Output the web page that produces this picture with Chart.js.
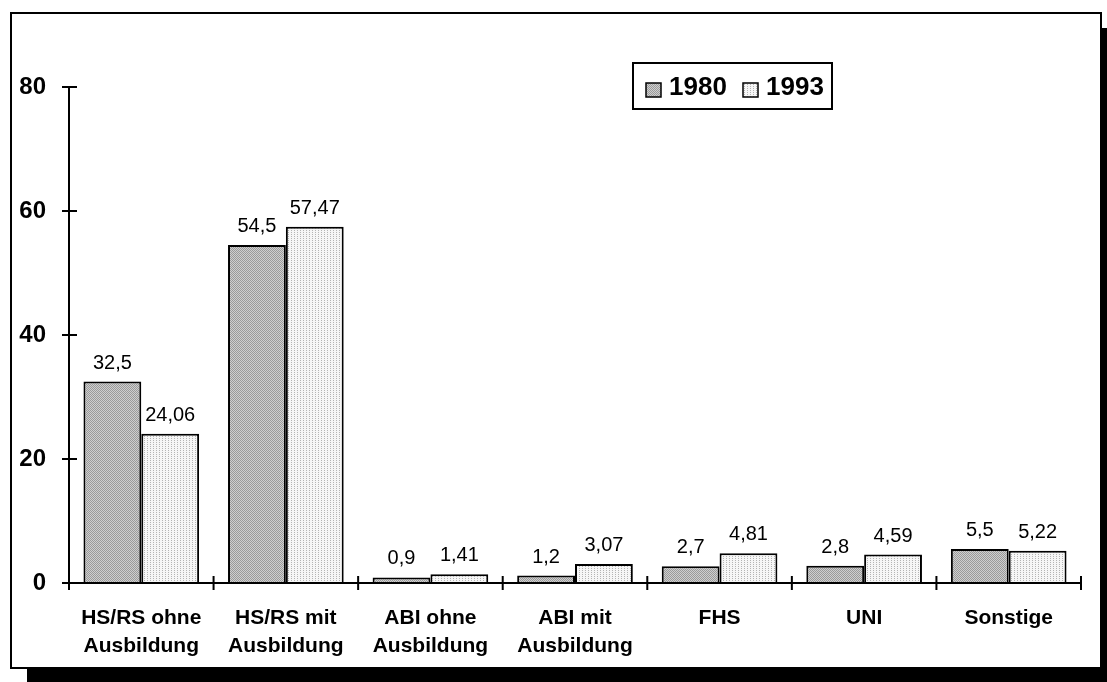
<!DOCTYPE html>
<html>
<head>
<meta charset="utf-8">
<script src="https://cdn.jsdelivr.net/npm/chart.js@4.4.0/dist/chart.umd.min.js"></script>
<style>
  body { margin: 0; background: #fff; }
</style>
</head>
<body>
<canvas id="myChart" width="1107" height="682"></canvas>
<script>
const categories = [
  ["HS/RS ohne", "Ausbildung"],
  ["HS/RS mit", "Ausbildung"],
  ["ABI ohne", "Ausbildung"],
  ["ABI mit", "Ausbildung"],
  "FHS",
  "UNI",
  "Sonstige"
];
const values1980 = [32.5, 54.5, 0.9, 1.2, 2.7, 2.8, 5.5];
const values1993 = [24.06, 57.47, 1.41, 3.07, 4.81, 4.59, 5.22];
const seriesNames = ["1980", "1993"];
const yTicks = [0, 20, 40, 60, 80];

const FONT = "'Liberation Sans', Arial, sans-serif";

// small canvas patterns to mimic the dithered fills
function makePattern(kind) {
  const c = document.createElement("canvas");
  const g = c.getContext("2d");
  if (kind === "dark") {
    c.width = 2; c.height = 2;
    g.fillStyle = "#cfcfcf"; g.fillRect(0, 0, 2, 2);
    g.fillStyle = "#9a9a9a"; g.fillRect(0, 0, 1, 1); g.fillRect(1, 1, 1, 1);
  } else {
    c.width = 3; c.height = 2;
    g.fillStyle = "#f6f6f6"; g.fillRect(0, 0, 3, 2);
    g.fillStyle = "#b4b4b4"; g.fillRect(0, 0, 1, 1);
  }
  return g.createPattern(c, "repeat");
}
const darkFill = makePattern("dark");
const lightFill = makePattern("light");

// frame with drop shadow behind the chart
const framePlugin = {
  id: "frame",
  beforeDraw(chart) {
    const ctx = chart.ctx;
    ctx.save();
    ctx.fillStyle = "#000";
    ctx.fillRect(27, 28, 1107 - 27, 682 - 28);
    ctx.fillStyle = "#fff";
    ctx.fillRect(11, 13, 1090, 655);
    ctx.strokeStyle = "#000";
    ctx.lineWidth = 2;
    ctx.strokeRect(11, 13, 1090, 655);
    ctx.restore();
  }
};

// axis lines, crossing tick marks and value labels
const axesPlugin = {
  id: "axesAndLabels",
  afterDatasetsDraw(chart) {
    const ctx = chart.ctx;
    const x = chart.scales.x, y = chart.scales.y;
    const area = chart.chartArea;
    const y0 = y.getPixelForValue(0);
    ctx.save();
    ctx.strokeStyle = "#000";
    ctx.lineWidth = 2;
    ctx.beginPath();
    ctx.moveTo(area.left, y.getPixelForValue(80));
    ctx.lineTo(area.left, y0);
    ctx.lineTo(area.right, y0);
    yTicks.forEach(v => {
      const py = y.getPixelForValue(v);
      ctx.moveTo(area.left - 7, py);
      ctx.lineTo(area.left + 8, py);
    });
    const step = (area.right - area.left) / categories.length;
    for (let i = 0; i <= categories.length; i++) {
      const px = area.left + i * step;
      ctx.moveTo(px, y0 - 7);
      ctx.lineTo(px, y0 + 7);
    }
    ctx.stroke();

    ctx.fillStyle = "#000";
    ctx.font = "20px " + FONT;
    ctx.textAlign = "center";
    ctx.textBaseline = "alphabetic";
    chart.data.datasets.forEach((ds, di) => {
      chart.getDatasetMeta(di).data.forEach((bar, i) => {
        const txt = String(ds.data[i]).replace(".", ",");
        ctx.fillText(txt, bar.x, bar.y - 13);
      });
    });
    ctx.restore();
  },
  afterDraw(chart) {
    const ctx = chart.ctx;
    ctx.save();
    ctx.fillStyle = "#fff";
    ctx.fillRect(633, 63, 199, 46);
    ctx.strokeStyle = "#000";
    ctx.lineWidth = 2;
    ctx.strokeRect(633, 63, 199, 46);
    ctx.font = "bold 26px " + FONT;
    ctx.textBaseline = "middle";
    ctx.textAlign = "left";
    const entries = [[646, darkFill], [743, lightFill]];
    entries.forEach(([sx, fill], i) => {
      ctx.fillStyle = fill;
      ctx.fillRect(sx, 83, 15, 14);
      ctx.lineWidth = 1.5;
      ctx.strokeRect(sx, 83, 15, 14);
      ctx.fillStyle = "#000";
      ctx.fillText(seriesNames[i], sx + 23, 88);
    });
    ctx.restore();
  }
};

const ctx = document.getElementById("myChart").getContext("2d");
const chart = new Chart(ctx, {
  type: "bar",
  data: {
    labels: categories,
    datasets: [
      {
        label: seriesNames[0],
        data: values1980,
        backgroundColor: darkFill,
        borderColor: "#000",
        borderWidth: 2,
        categoryPercentage: 0.8,
        barPercentage: 1.0
      },
      {
        label: seriesNames[1],
        data: values1993,
        backgroundColor: lightFill,
        borderColor: "#000",
        borderWidth: 2,
        categoryPercentage: 0.8,
        barPercentage: 1.0
      }
    ]
  },
  options: {
    responsive: false,
    animation: false,
    layout: { padding: { top: 87, right: 26, left: 0, bottom: 0 } },
    plugins: {
      legend: { display: false },
      tooltip: { enabled: false }
    },
    scales: {
      x: {
        grid: { display: false, drawTicks: false },
        border: { display: false },
        ticks: {
          color: "#000",
          padding: 22,
          maxRotation: 0,
          font: { family: FONT, size: 21, weight: "bold", lineHeight: 1.3 }
        },
        afterFit(scale) { scale.height = 99; }
      },
      y: {
        min: 0,
        max: 80,
        grid: { display: false, drawTicks: false },
        border: { display: false },
        ticks: {
          stepSize: 20,
          color: "#000",
          padding: 23,
          font: { family: FONT, size: 24, weight: "bold" }
        },
        afterFit(scale) { scale.width = 69; }
      }
    }
  },
  plugins: [framePlugin, axesPlugin]
});
</script>
</body>
</html>
